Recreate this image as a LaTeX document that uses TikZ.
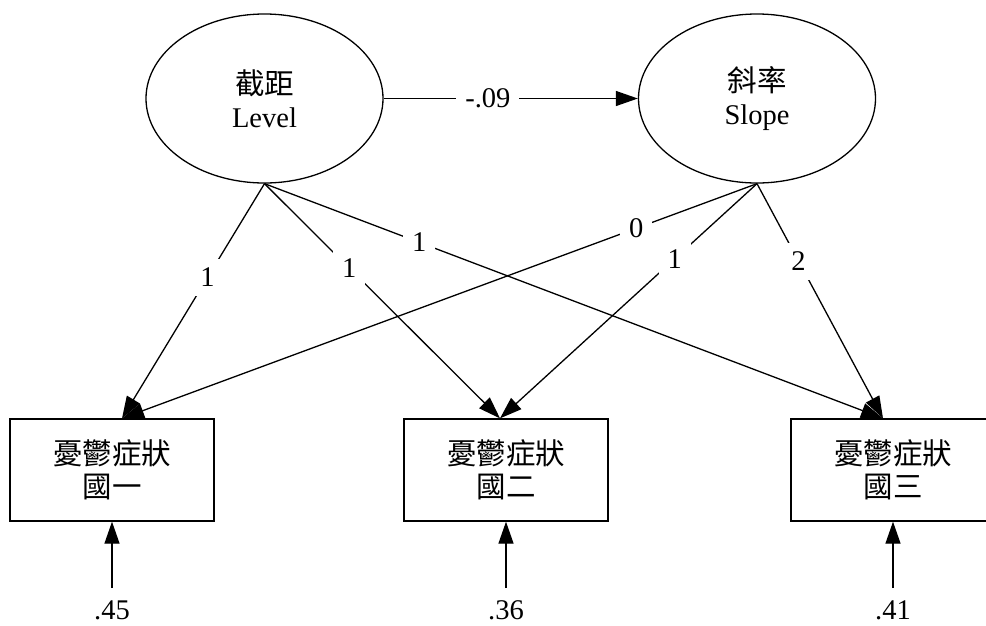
\documentclass[tikz,border=0pt]{standalone}
\usepackage{fontspec}
\setmainfont{Liberation Serif}
\newfontfamily\cjkfam{Noto Sans CJK TC}
\newcommand{\cjk}{\cjkfam\fontsize{29.5}{33}\selectfont}
\usetikzlibrary{shapes.geometric,arrows.meta}
\begin{document}
\begin{tikzpicture}[x=1pt,y=-1pt,
  every node/.style={font=\fontsize{28.5}{33}\selectfont},
  latent/.style={draw,ellipse,line width=1.3pt,minimum width=237pt,minimum height=169pt,inner sep=0pt,align=center},
  obs/.style={draw,rectangle,line width=1.3pt,minimum width=204pt,minimum height=102pt,inner sep=0pt,align=center},
  arr/.style={line width=1.3pt,-{Triangle[length=22pt,width=15pt]}},
  lab/.style={fill=white,inner sep=9pt},
  errlab/.style={inner sep=0pt}]
\useasboundingbox (0,0) rectangle (986,625);
% latent variables
\node[latent] (L) at (264.5,98.5) {{\cjk 截距}\\Level};
\node[latent] (S) at (757,98.5) {{\cjk 斜率}\\Slope};
% observed variables
\node[obs] (b1) at (112,470) {{\cjk 憂鬱症狀}\\{\cjk 國一}};
\node[obs] (b2) at (506,470) {{\cjk 憂鬱症狀}\\{\cjk 國二}};
\node[obs] (b3) at (893,470) {{\cjk 憂鬱症狀}\\{\cjk 國三}};
% level -> slope
\draw[arr] (L.east) -- (S.west) node[lab,pos=0.41] {-.09};
% loadings
\draw[arr] (L.south) -- ([xshift=10pt]b1.north) node[lab,pos=0.40] {1};
\draw[arr] (L.south) -- ([xshift=-6pt]b2.north) node[lab,pos=0.36] {1};
\draw[arr] (L.south) -- ([xshift=-10pt]b3.north) node[lab,pos=0.25] {1};
\draw[arr] (S.south) -- ([xshift=10pt]b1.north) node[lab,pos=0.19] {0};
\draw[arr] (S.south) -- ([xshift=-6pt]b2.north) node[lab,pos=0.32] {1};
\draw[arr] (S.south) -- ([xshift=-10pt]b3.north) node[lab,pos=0.33] {2};
% residuals
\node[errlab] (e1) at (112,610) {.45};
\node[errlab] (e2) at (506,610) {.36};
\node[errlab] (e3) at (893,610) {.41};
\draw[arr,shorten <=12pt] (e1.north) -- (b1.south);
\draw[arr,shorten <=12pt] (e2.north) -- (b2.south);
\draw[arr,shorten <=12pt] (e3.north) -- (b3.south);
\end{tikzpicture}
\end{document}
